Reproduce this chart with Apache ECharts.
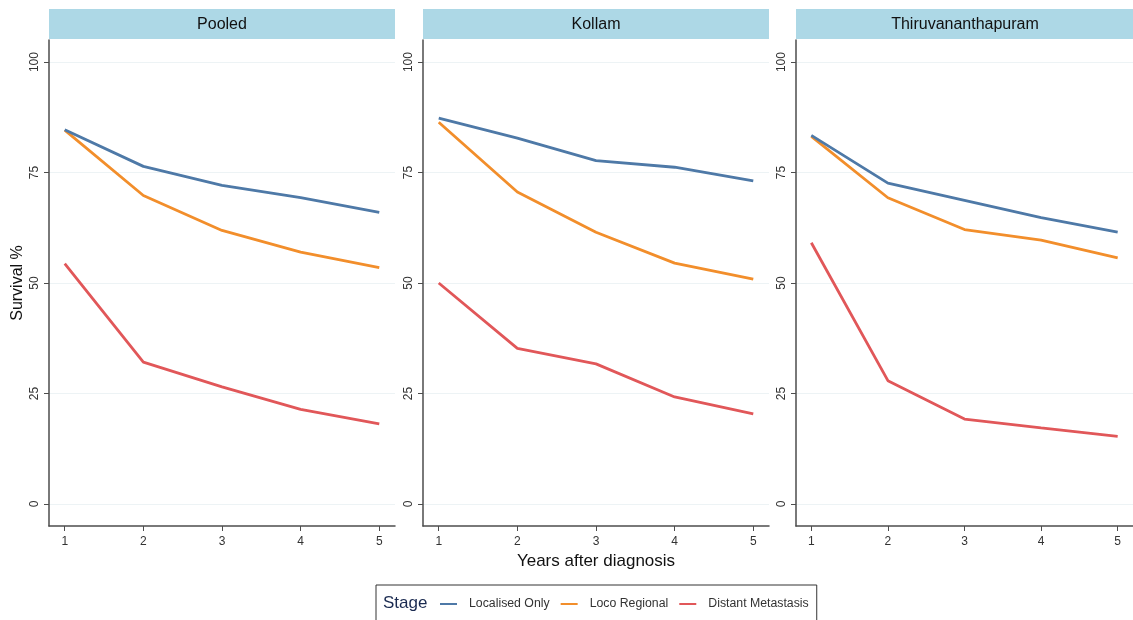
<!DOCTYPE html>
<html>
<head>
<meta charset="utf-8">
<script src="https://cdn.jsdelivr.net/npm/echarts@6/dist/echarts.min.js"></script>
<style>
html,body{margin:0;padding:0;background:#fff;}
#chart{width:1133px;height:620px;}
</style>
</head>
<body>
<div id="chart"></div>
<script>
const years = [1, 2, 3, 4, 5];
const yTicks = [0, 25, 50, 75, 100];
const panels = ['Pooled', 'Kollam', 'Thiruvananthapuram'];
const stages = ['Localised Only', 'Loco Regional', 'Distant Metastasis'];
const stageColors = ['#4e79a7', '#f28e2b', '#e15759'];

const pooledLocalised = [84.7, 76.4, 72.1, 69.3, 66.0];
const pooledLoco      = [84.6, 69.8, 61.9, 57.0, 53.5];
const pooledDistant   = [54.4, 32.1, 26.5, 21.4, 18.1];

const kollamLocalised = [87.3, 82.8, 77.7, 76.2, 73.1];
const kollamLoco      = [86.4, 70.6, 61.5, 54.5, 50.9];
const kollamDistant   = [50.0, 35.2, 31.7, 24.2, 20.4];

const tvmLocalised = [83.4, 72.6, 68.7, 64.8, 61.5];
const tvmLoco      = [83.2, 69.3, 62.1, 59.7, 55.7];
const tvmDistant   = [59.1, 27.9, 19.2, 17.2, 15.3];

const panelData = [
  [pooledLocalised, pooledLoco, pooledDistant],
  [kollamLocalised, kollamLoco, kollamDistant],
  [tvmLocalised, tvmLoco, tvmDistant]
];

const FONT = '"Liberation Sans", Arial, sans-serif';
const gridLefts = [49, 423, 796];
const gridW = 346;
const gridTop = 40;
const gridH = 486;

const grids = [], xAxes = [], yAxes = [], series = [], graphics = [];
panels.forEach((p, i) => {
  grids.push({left: gridLefts[i], top: gridTop, width: gridW, height: gridH, containLabel: false});
  xAxes.push({
    type: 'value', gridIndex: i, min: 0.8, max: 5.2,
    axisLine: {show: true, onZero: false, lineStyle: {color: '#4d4d4d', width: 1.5}},
    axisTick: {show: true, length: 5, customValues: years, lineStyle: {color: '#4d4d4d', width: 1}},
    axisLabel: {customValues: years, color: '#333', fontSize: 12, fontFamily: FONT, margin: 10},
    splitLine: {show: false},
    name: i === 1 ? 'Years after diagnosis' : '',
    nameLocation: 'middle', nameGap: 27,
    nameTextStyle: {color: '#111', fontSize: 17, fontFamily: FONT}
  });
  yAxes.push({
    type: 'value', gridIndex: i, min: -5, max: 105,
    axisLine: {show: true, onZero: false, lineStyle: {color: '#4d4d4d', width: 1.5}},
    axisTick: {show: true, length: 5, customValues: yTicks, lineStyle: {color: '#4d4d4d', width: 1}},
    axisLabel: {customValues: yTicks, rotate: 90, color: '#333', fontSize: 12, fontFamily: FONT, margin: 8},
    splitLine: {show: true, lineStyle: {color: '#edf3f5', width: 1}},
    name: i === 0 ? 'Survival %' : '',
    nameLocation: 'middle', nameGap: 23, nameRotate: 90,
    nameTextStyle: {color: '#111', fontSize: 16, fontFamily: FONT}
  });
  stages.forEach((s, k) => {
    series.push({
      name: s, type: 'line', xAxisIndex: i, yAxisIndex: i,
      data: years.map((yr, j) => [yr, panelData[i][k][j]]),
      symbol: 'none', smooth: false,
      lineStyle: {color: stageColors[k], width: 2.8},
      itemStyle: {color: stageColors[k]},
      z: 3 - k + 2
    });
  });
  graphics.push({
    type: 'rect', left: gridLefts[i], top: 9,
    shape: {width: gridW, height: 30},
    style: {fill: '#add8e6'}, silent: true
  });
  graphics.push({
    type: 'text', x: gridLefts[i] + gridW / 2 - (i === 2 ? 4 : 0), y: 25,
    style: {text: p, fill: '#111', font: '16px ' + FONT, textAlign: 'center', textVerticalAlign: 'middle'},
    silent: true
  });
});

graphics.push({
  type: 'text', left: 383, top: 595,
  style: {text: 'Stage', fill: '#1a2a50', font: '17px ' + FONT},
  silent: true
});

const option = {
  backgroundColor: '#fff',
  animation: false,
  grid: grids,
  xAxis: xAxes,
  yAxis: yAxes,
  series: series,
  graphic: graphics,
  legend: {
    data: stages,
    left: 376, top: 585,
    borderColor: '#333', borderWidth: 1,
    padding: [13, 8, 14, 64],
    itemWidth: 17, itemHeight: 12, itemGap: 11,
    icon: 'path://M0,5 L17,5 L17,7 L0,7 Z',
    textStyle: {color: '#333', fontSize: 12.3, fontFamily: FONT, padding: [0, 0, 0, 7]}
  }
};

const chart = echarts.init(document.getElementById('chart'), null, {renderer: 'canvas'});
chart.setOption(option);
</script>
</body>
</html>
